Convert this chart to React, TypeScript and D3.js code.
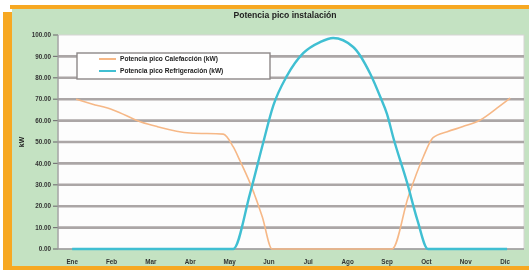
import React from "react";
import * as d3 from "d3";

// meses (eje X) y escala de kW
const months = ["Ene", "Feb", "Mar", "Abr", "May", "Jun", "Jul", "Ago", "Sep", "Oct", "Nov", "Dic"];
const yTickValues = [0, 10, 20, 30, 40, 50, 60, 70, 80, 90, 100];

// Potencia pico Calefacción (kW), posición en meses
const calefMes = [0.1, 0.5, 1.04, 1.73, 2.16, 3.0, 3.84, 4.09, 4.27, 4.52, 4.83, 5.08, 6.0, 7.0, 8.13, 8.54, 8.92, 9.17, 9.53, 9.93, 10.37, 10.8, 11.13];
const calefKw = [70, 67.8, 65, 59.5, 57.2, 54.2, 53.7, 47.8, 41, 30.8, 15.1, 0, 0, 0, 0, 24.4, 43, 52, 54.8, 57.2, 60.3, 65.9, 70.5];

// Potencia pico Refrigeración (kW)
const refrigMes = [0, 1, 2, 3, 4.09, 4.52, 4.83, 5.11, 5.46, 5.87, 6.3, 6.63, 7.14, 7.57, 7.83, 8.0, 8.16, 8.51, 8.77, 9.04, 10, 11.05];
const refrigKw = [0, 0, 0, 0, 0, 26, 48, 67, 81, 91.5, 96.7, 98.6, 94.4, 82, 71, 63, 52, 31, 13.6, 0, 0, 0];

const seriesNames = ["Potencia pico Calefacción (kW)", "Potencia pico Refrigeración (kW)"];
const seriesColors = ["#f6b887", "#3fbfd2"];

function Chart() {
  const width = 529;
  const height = 270;
  const left = 58;
  const right = 524;
  const top = 35;
  const bottom = 249;
  const font = "'Liberation Sans', Arial, sans-serif";

  const x = d3.scaleLinear().domain([-0.36, 11.48]).range([left, right]);
  const y = d3.scaleLinear().domain([0, 100]).range([bottom, top]);
  const fmt = d3.format(".2f");

  const line = d3
    .line<[number, number]>()
    .x((d) => x(d[0]))
    .y((d) => y(d[1]))
    .curve(d3.curveMonotoneX);

  const calef = calefMes.map((m, i) => [m, calefKw[i]] as [number, number]);
  const refrig = refrigMes.map((m, i) => [m, refrigKw[i]] as [number, number]);

  return (
    <svg
      width={width}
      height={height}
      style={{ position: "absolute", left: 0, top: 0, background: "#fff" }}
    >
      <defs>
        <filter id="soft" x="-5%" y="-5%" width="110%" height="110%">
          <feGaussianBlur stdDeviation="0.55" />
        </filter>
      </defs>
      <g filter="url(#soft)">
        {/* marco naranja y fondo verde */}
        <rect x={10} y={5} width={519} height={4} fill="#f7a823" />
        <rect x={3} y={12} width={9} height={258} fill="#f7a823" />
        <rect x={3} y={266} width={526} height={4} fill="#f7a823" />
        <rect x={12} y={9} width={517} height={257} fill="#c4e2c2" />

        <text
          x={285}
          y={18}
          textAnchor="middle"
          fontFamily={font}
          fontWeight="bold"
          fontSize={8.6}
          fill="#222"
        >
          Potencia pico instalación
        </text>

        {/* área de trazado */}
        <rect x={left} y={top} width={right - left} height={bottom - top} fill="#fdfdfd" stroke="#d6d3d3" strokeWidth={1} />

        {yTickValues.map((v) => (
          <g key={v}>
            {v > 0 && v < 100 && (
              <line x1={left} x2={right} y1={y(v)} y2={y(v)} stroke="#aba6a6" strokeWidth={2.6} />
            )}
            <line x1={left - 5} x2={left} y1={y(v)} y2={y(v)} stroke="#777" strokeWidth={1.2} />
            <text
              x={left - 7}
              y={y(v)}
              dy="0.35em"
              textAnchor="end"
              fontFamily={font}
              fontWeight="bold"
              fontSize={6.3}
              fill="#333"
            >
              {fmt(v)}
            </text>
          </g>
        ))}

        <line x1={left} x2={left} y1={top} y2={bottom} stroke="#999" strokeWidth={1.2} />
        <line x1={left} x2={right} y1={bottom} y2={bottom} stroke="#999" strokeWidth={1.6} />

        {months.map((m, i) => (
          <text
            key={m}
            x={x(i)}
            y={264}
            textAnchor="middle"
            fontFamily={font}
            fontWeight="bold"
            fontSize={6.3}
            fill="#333"
          >
            {m}
          </text>
        ))}

        <text
          transform={`translate(24, ${(top + bottom) / 2}) rotate(-90)`}
          textAnchor="middle"
          fontFamily={font}
          fontWeight="bold"
          fontSize={7}
          fill="#222"
        >
          kW
        </text>

        <path d={line(calef) ?? ""} fill="none" stroke={seriesColors[0]} strokeWidth={1.6} />
        <path d={line(refrig) ?? ""} fill="none" stroke={seriesColors[1]} strokeWidth={2.4} />

        {/* leyenda */}
        <rect x={77} y={53} width={193} height={26} fill="#fff" stroke="#8d8888" strokeWidth={1.4} />
        {seriesNames.map((name, i) => (
          <g key={name} transform={`translate(0, ${59 + i * 12})`}>
            <line x1={99} x2={116} y1={0} y2={0} stroke={seriesColors[i]} strokeWidth={2} />
            <text
              x={120}
              y={0}
              dy="0.35em"
              fontFamily={font}
              fontWeight="bold"
              fontSize={6.6}
              fill="#222"
            >
              {name}
            </text>
          </g>
        ))}
      </g>
    </svg>
  );
}

export default function App() {
  return <Chart />;
}
